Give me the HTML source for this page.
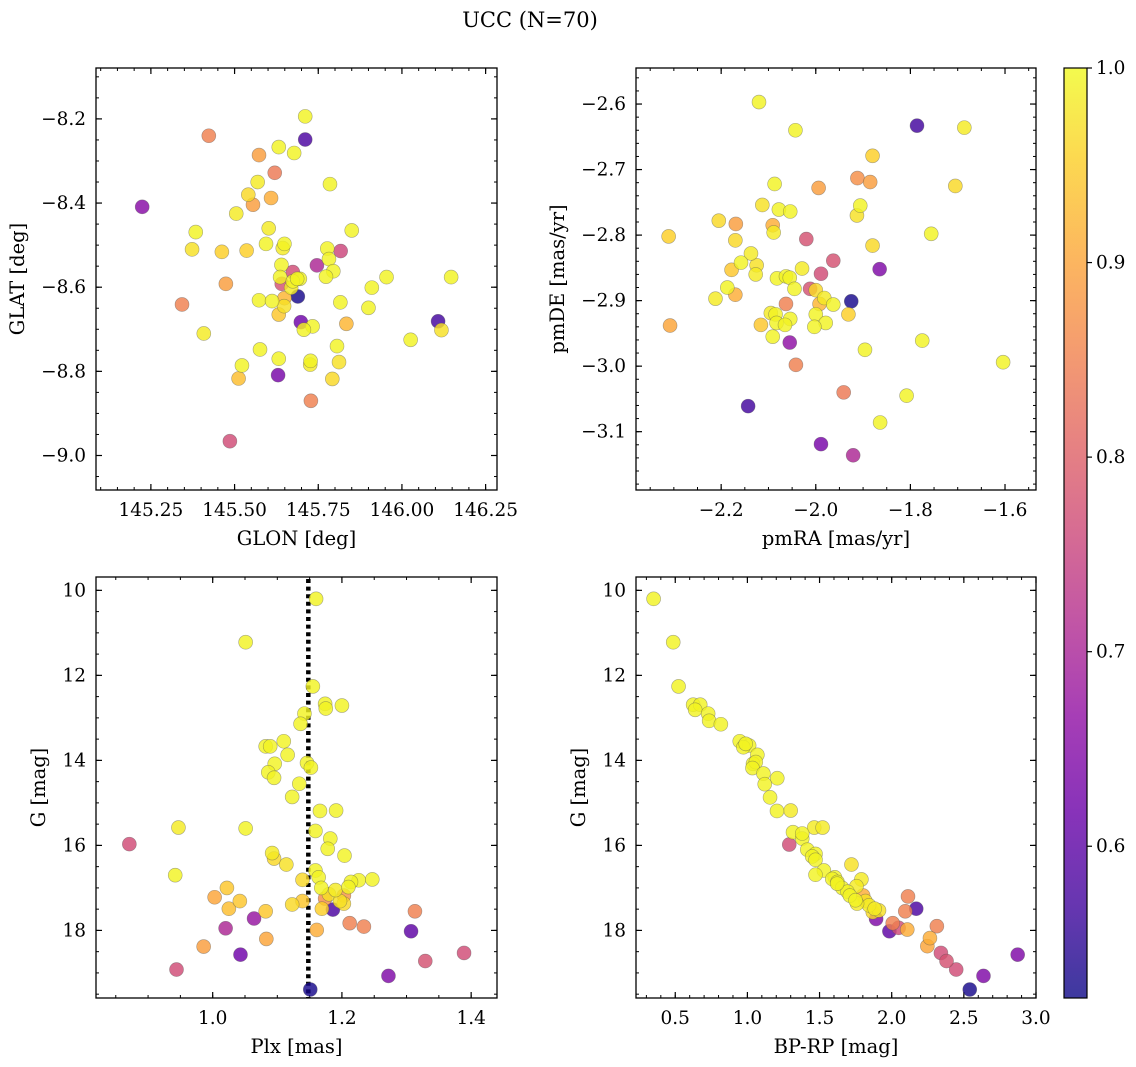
<!DOCTYPE html>
<html><head><meta charset="utf-8"><style>
html,body{margin:0;padding:0;background:#fff;}
svg{display:block;font-family:"DejaVu Serif","Liberation Serif",serif;}
</style></head><body>
<svg id="fig" width="1136" height="1067" viewBox="0 0 1136 1067" xmlns="http://www.w3.org/2000/svg">
<defs>
<linearGradient id="plasma" x1="0" y1="1" x2="0" y2="0">
<stop offset="0" stop-color="#0d0887"/><stop offset="0.1" stop-color="#41049d"/><stop offset="0.2" stop-color="#6a00a8"/><stop offset="0.3" stop-color="#8f0da4"/><stop offset="0.4" stop-color="#b12a90"/><stop offset="0.5" stop-color="#cc4778"/><stop offset="0.6" stop-color="#e16462"/><stop offset="0.7" stop-color="#f2844b"/><stop offset="0.8" stop-color="#fca636"/><stop offset="0.9" stop-color="#fcce25"/><stop offset="1" stop-color="#f0f921"/>
</linearGradient>
</defs>
<text x="530" y="27" font-size="21" text-anchor="middle">UCC (N=70)</text>
</svg>
<script>
// ---- Panel 1: GLON / GLAT ----
const glon=[145.711,145.711,145.423,145.632,145.678,145.573,145.620,145.569,145.785,145.541,145.609,145.555,145.224,145.505,145.602,145.850,145.384,145.594,145.649,145.644,145.373,145.462,145.536,145.777,145.817,145.782,145.746,145.640,145.795,145.674,145.636,145.695,146.147,145.954,145.773,145.641,145.674,145.474,145.669,145.910,145.343,145.573,145.612,145.649,145.689,145.648,145.816,145.900,145.632,145.698,146.108,146.118,145.733,145.707,145.834,145.408,146.026,145.806,145.576,145.632,145.727,145.726,145.812,145.522,145.630,145.512,145.792,145.728,145.486,145.687];
const glat=[-8.194,-8.249,-8.240,-8.267,-8.281,-8.286,-8.328,-8.350,-8.355,-8.380,-8.388,-8.404,-8.409,-8.425,-8.460,-8.465,-8.469,-8.497,-8.497,-8.507,-8.510,-8.516,-8.513,-8.508,-8.514,-8.533,-8.548,-8.547,-8.562,-8.564,-8.576,-8.580,-8.576,-8.576,-8.575,-8.592,-8.586,-8.592,-8.601,-8.601,-8.641,-8.631,-8.633,-8.626,-8.622,-8.645,-8.636,-8.649,-8.665,-8.683,-8.681,-8.702,-8.693,-8.701,-8.687,-8.710,-8.725,-8.740,-8.748,-8.770,-8.775,-8.784,-8.778,-8.786,-8.809,-8.817,-8.818,-8.870,-8.966,-8.580];
const prob1=[.98,.58,.84,.98,.98,.88,.83,.97,.98,.95,.90,.88,.65,.97,.97,.98,.98,.98,.98,.97,.96,.94,.94,.98,.75,.98,.70,.98,.98,.76,.98,.98,.98,.98,.98,.77,.98,.88,.97,.98,.84,.98,.98,.91,.53,.96,.98,.98,.93,.62,.57,.96,.98,.98,.91,.97,.98,.98,.98,.98,.98,.97,.96,.98,.63,.92,.95,.84,.76,.98];
// ---- Panel 2: pmRA / pmDE ----
const pmra=[-2.120,-2.043,-1.786,-1.686,-1.880,-1.912,-1.885,-1.994,-1.705,-2.087,-2.113,-2.078,-2.054,-1.906,-1.913,-2.205,-2.169,-2.091,-2.089,-2.311,-2.170,-1.756,-1.880,-2.020,-2.137,-2.158,-2.125,-2.178,-1.963,-1.865,-2.029,-2.127,-1.989,-2.082,-2.063,-2.055,-2.187,-2.045,-2.012,-2.000,-2.170,-2.212,-1.982,-1.925,-1.992,-1.963,-2.063,-2.095,-2.085,-1.931,-2.000,-2.054,-2.083,-2.065,-2.116,-1.979,-2.003,-2.308,-2.091,-2.055,-1.896,-1.775,-2.042,-1.604,-1.941,-1.808,-2.143,-1.864,-1.989,-1.921];
const pmde=[-2.597,-2.640,-2.633,-2.636,-2.679,-2.713,-2.719,-2.728,-2.725,-2.722,-2.754,-2.761,-2.764,-2.755,-2.770,-2.778,-2.783,-2.785,-2.796,-2.802,-2.808,-2.798,-2.816,-2.806,-2.828,-2.842,-2.846,-2.853,-2.839,-2.852,-2.851,-2.860,-2.859,-2.866,-2.863,-2.865,-2.880,-2.882,-2.882,-2.884,-2.891,-2.897,-2.896,-2.901,-2.905,-2.906,-2.905,-2.919,-2.921,-2.921,-2.921,-2.928,-2.934,-2.937,-2.937,-2.934,-2.940,-2.938,-2.955,-2.964,-2.975,-2.961,-2.998,-2.994,-3.040,-3.045,-3.061,-3.086,-3.119,-3.136];
const prob2=[.98,.98,.57,.97,.94,.86,.88,.88,.95,.98,.96,.98,.98,.98,.96,.95,.88,.90,.97,.94,.95,.98,.95,.77,.97,.98,.96,.93,.77,.64,.97,.97,.76,.98,.98,.98,.98,.98,.77,.95,.90,.97,.97,.53,.91,.98,.84,.97,.98,.94,.98,.98,.98,.98,.93,.98,.98,.89,.98,.66,.98,.98,.84,.98,.83,.98,.57,.98,.63,.70];
// ---- Panel 3: Plx / G ----
const plx=[1.160,1.051,1.155,1.174,1.175,1.200,1.142,1.136,1.110,1.082,1.089,1.116,1.096,1.146,1.152,1.086,1.095,1.134,1.123,1.166,1.191,0.947,1.051,1.159,1.182,1.178,0.871,1.092,1.095,1.114,1.204,1.159,0.942,1.164,1.139,1.226,1.247,1.214,1.210,1.022,1.168,1.180,1.003,1.203,1.174,1.042,1.197,1.139,1.123,1.203,1.025,1.082,1.169,1.186,1.313,1.064,1.212,1.234,1.020,1.161,1.307,1.083,0.986,1.043,1.389,1.329,0.944,1.272,1.151,1.190];
const gmag3=[10.20,11.22,12.26,12.67,12.78,12.71,12.90,13.14,13.55,13.67,13.67,13.87,14.08,14.06,14.17,14.28,14.41,14.55,14.86,15.19,15.18,15.58,15.60,15.66,15.84,16.08,15.97,16.18,16.31,16.45,16.24,16.59,16.70,16.75,16.81,16.82,16.80,16.86,16.98,17.00,17.00,17.15,17.22,17.18,17.25,17.31,17.31,17.31,17.39,17.37,17.49,17.55,17.49,17.51,17.55,17.72,17.83,17.91,17.95,17.99,18.02,18.20,18.38,18.57,18.53,18.72,18.92,19.07,19.39,17.05];
const prob3=[.98,.98,.98,.98,.98,.98,.98,.98,.98,.98,.98,.98,.98,.98,.98,.98,.98,.98,.98,.98,.98,.97,.98,.98,.98,.98,.76,.97,.95,.96,.98,.98,.98,.98,.95,.98,.98,.98,.98,.93,.98,.96,.89,.87,.86,.93,.96,.93,.95,.95,.92,.93,.94,.58,.84,.67,.84,.84,.70,.90,.60,.89,.88,.62,.76,.77,.76,.64,.53,.97];
const plxRef=[1.148];
// ---- Panel 4: BP-RP / G ----
const bprp=[0.350,0.486,0.523,0.624,0.673,0.638,0.728,0.735,0.816,0.947,1.012,0.972,1.069,1.039,1.058,1.035,1.111,1.207,1.120,1.157,1.205,1.300,1.463,1.521,1.316,1.380,1.290,1.415,1.472,1.449,1.472,1.721,1.530,1.472,1.606,1.790,1.588,1.624,1.756,1.657,1.694,1.802,1.710,1.749,1.818,1.843,2.113,1.882,2.170,2.094,1.869,1.892,2.007,2.048,1.984,2.108,2.313,2.265,2.247,2.341,2.380,2.447,2.873,2.636,2.541,1.912,1.622,1.380,0.988,1.760];
const gmag4=[10.20,11.22,12.26,12.69,12.69,12.81,12.90,13.07,13.15,13.55,13.65,13.69,13.87,14.08,14.04,14.18,14.31,14.42,14.56,14.87,15.19,15.18,15.58,15.58,15.69,15.84,15.98,16.10,16.20,16.26,16.34,16.45,16.59,16.69,16.75,16.80,16.79,16.86,16.96,17.00,17.09,17.18,17.18,17.29,17.31,17.41,17.20,17.49,17.49,17.55,17.57,17.73,17.83,17.94,18.02,17.98,17.90,18.18,18.37,18.53,18.72,18.92,18.57,19.07,19.39,17.53,16.90,15.72,13.61,17.37];
const prob4=[.98,.98,.98,.98,.98,.98,.98,.98,.98,.98,.98,.98,.98,.98,.98,.98,.98,.98,.98,.98,.98,.97,.97,.97,.98,.98,.76,.98,.98,.98,.98,.96,.98,.98,.98,.97,.98,.98,.97,.98,.98,.90,.98,.98,.96,.97,.84,.97,.58,.84,.95,.64,.84,.76,.60,.90,.84,.90,.89,.76,.77,.76,.64,.64,.53,.96,.98,.98,.98,.97];
// ---- tick labels ----
const xt1=[145.25,145.50,145.75,146.00,146.25], yt1=[-8.2,-8.4,-8.6,-8.8,-9.0];
const xt2=[-2.2,-2.0,-1.8,-1.6], yt2=[-2.6,-2.7,-2.8,-2.9,-3.0,-3.1];
const xt3=[1.0,1.2,1.4], yt3=[10,12,14,16,18];
const xt4=[0.5,1.0,1.5,2.0,2.5,3.0], yt4=[10,12,14,16,18];
const cbTicks=[0.6,0.7,0.8,0.9,1.0];
const cMin=0.522, cMax=1.0;

const NS="http://www.w3.org/2000/svg";
const svg=document.getElementById('fig');
const stops=["#0d0887","#41049d","#6a00a8","#8f0da4","#b12a90","#cc4778","#e16462","#f2844b","#fca636","#fcce25","#f0f921"];
function hex(h){return [1,3,5].map(i=>parseInt(h.substr(i,2),16));}
function cmap(v){let t=(v-cMin)/(cMax-cMin);t=Math.max(0,Math.min(1,t));t=Math.min(1,t*1.03)*10;const i=Math.min(9,Math.floor(t)),f=t-i;const a=hex(stops[i]),b=hex(stops[i+1]);return 'rgb('+a.map((x,k)=>Math.round(x+(b[k]-x)*f)).join(',')+')';}
function el(tag,attrs,parent){const e=document.createElementNS(NS,tag);for(const k in attrs)e.setAttribute(k,attrs[k]);(parent||svg).appendChild(e);return e;}
function fmt(v,d){return v.toFixed(d).replace('-','\u2212');}
const TF=18.5, LF=19.5;

function panel(o){
  const g=el('g',{});
  
  
  const sx=v=>o.L+(v-o.xlim[0])/(o.xlim[1]-o.xlim[0])*(o.R-o.L);
  const sy=v=>o.T+(v-o.ylim[0])/(o.ylim[1]-o.ylim[0])*(o.B-o.T);
  const mk=(a0,a1,step,fn)=>{const s=Math.ceil(Math.min(a0,a1)/step-1e-6);for(let k=s;k*step<=Math.max(a0,a1)+1e-9;k++)fn(k*step);};
  mk(o.xlim[0],o.xlim[1],o.xminor,v=>{const x=sx(v);el('line',{x1:x,x2:x,y1:o.B,y2:o.B-3,stroke:'#000','stroke-width':1},g);el('line',{x1:x,x2:x,y1:o.T,y2:o.T+3,stroke:'#000','stroke-width':1},g);});
  mk(o.ylim[0],o.ylim[1],o.yminor,v=>{const y=sy(v);el('line',{x1:o.L,x2:o.L+3,y1:y,y2:y,stroke:'#000','stroke-width':1},g);el('line',{x1:o.R,x2:o.R-3,y1:y,y2:y,stroke:'#000','stroke-width':1},g);});
  o.xt.forEach(v=>{const x=sx(v);el('line',{x1:x,x2:x,y1:o.B,y2:o.B-6,stroke:'#000','stroke-width':1.2},g);el('line',{x1:x,x2:x,y1:o.T,y2:o.T+6,stroke:'#000','stroke-width':1.2},g);
    const t=el('text',{x:x,y:o.B+26,'font-size':TF,'text-anchor':'middle'},g);t.textContent=fmt(v,o.xd);
    
    });
  o.yt.forEach(v=>{const y=sy(v);el('line',{x1:o.L,x2:o.L+6,y1:y,y2:y,stroke:'#000','stroke-width':1.2},g);el('line',{x1:o.R,x2:o.R-6,y1:y,y2:y,stroke:'#000','stroke-width':1.2},g);
    const t=el('text',{x:o.L-10,y:y+6,'font-size':TF,'text-anchor':'end'},g);t.textContent=fmt(v,o.yd);
    
    });
  if(o.vline!==undefined){const x=sx(o.vline);const ln=el('line',{x1:x,x2:x,y1:o.T+2,y2:o.B,stroke:'#000','stroke-width':4.5,'stroke-dasharray':'4 3.6'},g);
    
    }
  const idx=o.x.map((_,i)=>i).sort((a,b)=>o.c[a]-o.c[b]);
  idx.forEach(i=>{const c=el('circle',{cx:sx(o.x[i]),cy:sy(o.y[i]),r:7,fill:cmap(o.c[i]),'fill-opacity':0.82,stroke:'#555','stroke-opacity':0.5,'stroke-width':0.6},g);
    
    });
  el('rect',{x:o.L,y:o.T,width:o.R-o.L,height:o.B-o.T,fill:'none',stroke:'#000','stroke-width':1.3},g);
  const xl=el('text',{x:(o.L+o.R)/2,y:o.B+55,'font-size':LF,'text-anchor':'middle'},g);xl.textContent=o.xlabel;
  
  
  const yx=o.ylx, yy=(o.T+o.B)/2;
  const yl=el('text',{x:yx,y:yy,'font-size':LF,'text-anchor':'middle',transform:'rotate(-90 '+yx+' '+yy+')'},g);yl.textContent=o.ylabel;
  
  
}
panel({name:'glon-glat-panel',L:96,T:68,R:497,B:490,xlim:[145.086,146.284],ylim:[-8.079,-9.082],xminor:0.05,yminor:0.05,xt:xt1,yt:yt1,xd:2,yd:1,x:glon,y:glat,c:prob1,xlabel:'GLON [deg]',ylabel:'GLAT [deg]',ylx:24});
panel({name:'pm-panel',L:636,T:68,R:1036,B:490,xlim:[-2.380,-1.5345],ylim:[-2.545,-3.189],xminor:0.05,yminor:0.02,xt:xt2,yt:yt2,xd:1,yd:1,x:pmra,y:pmde,c:prob2,xlabel:'pmRA [mas/yr]',ylabel:'pmDE [mas/yr]',ylx:564});
panel({name:'plx-g-panel',L:96,T:577,R:497,B:998,xlim:[0.8194,1.440],ylim:[9.686,19.59],xminor:0.05,yminor:0.5,xt:xt3,yt:yt3,xd:1,yd:0,x:plx,y:gmag3,c:prob3,xlabel:'Plx [mas]',ylabel:'G [mag]',ylx:45,vline:plxRef[0]});
panel({name:'cmd-panel',L:636,T:577,R:1036,B:998,xlim:[0.228,3.0],ylim:[9.686,19.59],xminor:0.1,yminor:0.5,xt:xt4,yt:yt4,xd:1,yd:0,x:bprp,y:gmag4,c:prob4,xlabel:'BP-RP [mag]',ylabel:'G [mag]',ylx:585});
// colorbar
const cb=el('g',{});


const cT=68,cB=998,cL=1064,cR=1087;
el('rect',{x:cL,y:cT,width:cR-cL,height:cB-cT,fill:'url(#plasma)','fill-opacity':0.8},cb);
el('rect',{x:cL,y:cT,width:cR-cL,height:cB-cT,fill:'none',stroke:'#000','stroke-width':1.2},cb);
cbTicks.forEach(v=>{const y=cB-(v-cMin)/(cMax-cMin)*(cB-cT);el('line',{x1:cR,x2:cR+5,y1:y,y2:y,stroke:'#000','stroke-width':1.2},cb);
  const t=el('text',{x:cR+9,y:y+6,'font-size':TF},cb);t.textContent=v.toFixed(1);
  
  });
</script>
</body></html>
